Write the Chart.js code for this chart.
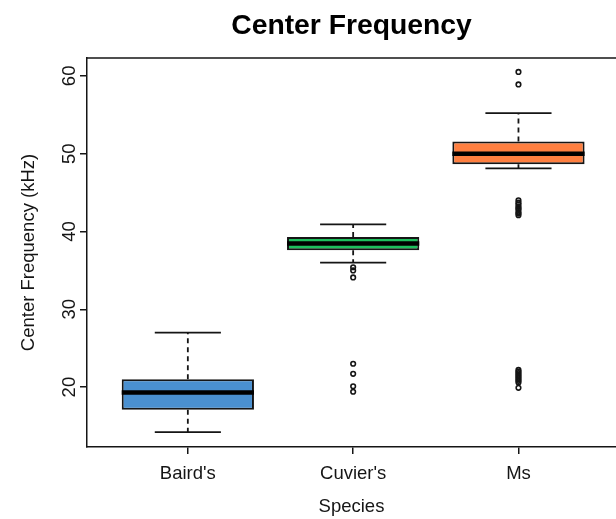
<!DOCTYPE html>
<html>
<head>
<meta charset="utf-8">
<script src="https://cdn.jsdelivr.net/npm/chart.js@4.4.1/dist/chart.umd.min.js"></script>
<style>
  html, body { margin: 0; padding: 0; background: #ffffff; overflow: hidden; }
  #wrap { width: 616px; height: 519px; }
  canvas { display: block; }
</style>
</head>
<body>
<div id="wrap"><canvas id="chart" width="616" height="519"></canvas></div>
<script>
// Box-plot summary per species (kHz)
const categories = ["Baird's", "Cuvier's", "Ms"];
const lowerWhisker = [14.2, 36.0, 48.1];
const q1 = [17.1, 37.6, 48.65];
const median = [19.3, 38.45, 50.0];
const q3 = [21.0, 39.3, 51.55];
const upperWhisker = [27.0, 40.9, 55.2];

// Points beyond the whiskers
const bairdOutliers = [];
const cuvierOutliers = [35.4, 35.0, 34.1, 23.0, 21.7, 20.1, 19.4];
const msOutliers = [60.5, 58.9,
  44.0, 43.7, 43.5, 43.2, 43.0, 42.8, 42.5, 42.3, 42.1,
  22.2, 22.0, 21.8, 21.6, 21.4, 21.2, 21.0, 20.8, 20.6, 19.9];

const yTickValues = [20, 30, 40, 50, 60];
const boxColors = ['#4A90D0', '#1CC05C', '#FF7F40'];

const outlierLists = [bairdOutliers, cuvierOutliers, msOutliers];
const FONT = "'Liberation Sans', Arial, Helvetica, sans-serif";
const INK = '#151515';

// Segment lists for whiskers, staples and medians (null breaks the line)
const whiskerPts = [];
const staplePts = [];
const medianPts = [];
categories.forEach((c, i) => {
  const x = i + 1;
  whiskerPts.push({x, y: q3[i]}, {x, y: upperWhisker[i]}, {x, y: null},
                  {x, y: q1[i]}, {x, y: lowerWhisker[i]}, {x, y: null});
  staplePts.push({x: x - 0.2, y: upperWhisker[i]}, {x: x + 0.2, y: upperWhisker[i]}, {x, y: null},
                 {x: x - 0.2, y: lowerWhisker[i]}, {x: x + 0.2, y: lowerWhisker[i]}, {x, y: null});
  medianPts.push({x: x - 0.4, y: median[i]}, {x: x + 0.4, y: median[i]}, {x, y: null});
});
const outlierPts = [];
outlierLists.forEach((list, i) => list.forEach(v => outlierPts.push({x: i + 1, y: v})));

// Top edge of the plot frame
const frameTop = {
  id: 'frameTop',
  afterDraw(chart) {
    const {ctx, chartArea} = chart;
    ctx.save();
    ctx.strokeStyle = INK;
    ctx.lineWidth = 1.5;
    ctx.beginPath();
    ctx.moveTo(chartArea.left - 0.75, chartArea.top);
    ctx.lineTo(chartArea.right, chartArea.top);
    ctx.stroke();
    ctx.restore();
  }
};

new Chart(document.getElementById('chart'), {
  type: 'bar',
  data: {
    datasets: [
      {
        type: 'bar',
        data: categories.map((c, i) => ({x: i + 1, y: [q1[i], q3[i]]})),
        backgroundColor: boxColors,
        borderColor: INK,
        borderWidth: 2,
        borderSkipped: false,
        categoryPercentage: 0.8,
        barPercentage: 1.0,
        order: 3
      },
      {
        type: 'line',
        data: whiskerPts,
        borderColor: INK,
        borderWidth: 1.8,
        borderDash: [5, 4],
        pointRadius: 0,
        spanGaps: false,
        order: 4
      },
      {
        type: 'line',
        data: staplePts,
        borderColor: INK,
        borderWidth: 1.8,
        pointRadius: 0,
        spanGaps: false,
        order: 2
      },
      {
        type: 'line',
        data: medianPts,
        borderColor: '#000000',
        borderWidth: 4.5,
        borderCapStyle: 'butt',
        pointRadius: 0,
        spanGaps: false,
        order: 1
      },
      {
        type: 'scatter',
        data: outlierPts,
        pointStyle: 'circle',
        pointRadius: 2.3,
        borderWidth: 1.6,
        borderColor: INK,
        backgroundColor: 'rgba(255,255,255,0)',
        order: 0
      }
    ]
  },
  options: {
    responsive: false,
    animation: false,
    devicePixelRatio: 1,
    layout: { padding: 0, autoPadding: false },
    plugins: {
      legend: { display: false },
      tooltip: { enabled: false },
      title: {
        display: true,
        text: 'Center Frequency',
        fullSize: false,
        color: '#000000',
        font: { family: FONT, size: 28.3, weight: 'bold', lineHeight: 1.2 },
        padding: { top: 9.6, bottom: 14.4 }
      }
    },
    scales: {
      x: {
        type: 'linear',
        min: 0.39,
        max: 3.59,
        offset: false,
        afterBuildTicks(scale) { scale.ticks = categories.map((c, i) => ({value: i + 1})); },
        afterFit(scale) { scale.height = 72; },
        grid: { display: true, offset: false, drawOnChartArea: false, drawTicks: true, tickLength: 7, color: INK, lineWidth: 1.5 },
        border: { display: true, color: INK, width: 1.5 },
        ticks: {
          autoSkip: false,
          maxRotation: 0,
          padding: 9,
          color: INK,
          font: { family: FONT, size: 18.5 },
          callback: (v) => categories[v - 1] ?? ''
        },
        title: {
          display: true,
          text: 'Species',
          color: INK,
          font: { family: FONT, size: 18.5, lineHeight: 1.2 },
          padding: { top: 0, bottom: 1 }
        }
      },
      y: {
        type: 'linear',
        min: 12.3,
        max: 62.3,
        afterBuildTicks(scale) { scale.ticks = yTickValues.map(v => ({value: v})); },
        afterFit(scale) { scale.width = 87; },
        grid: { display: true, drawOnChartArea: false, drawTicks: true, tickLength: 7, color: INK, lineWidth: 1.5 },
        border: { display: true, color: INK, width: 1.5 },
        ticks: {
          autoSkip: false,
          minRotation: 90,
          maxRotation: 90,
          crossAlign: 'center',
          padding: 0,
          color: INK,
          font: { family: FONT, size: 18.5 }
        },
        title: {
          display: true,
          text: 'Center Frequency (kHz)',
          color: INK,
          font: { family: FONT, size: 18.5, lineHeight: 1.2 },
          padding: { top: 18, bottom: 0 }
        }
      }
    }
  },
  plugins: [frameTop]
});
</script>
</body>
</html>
